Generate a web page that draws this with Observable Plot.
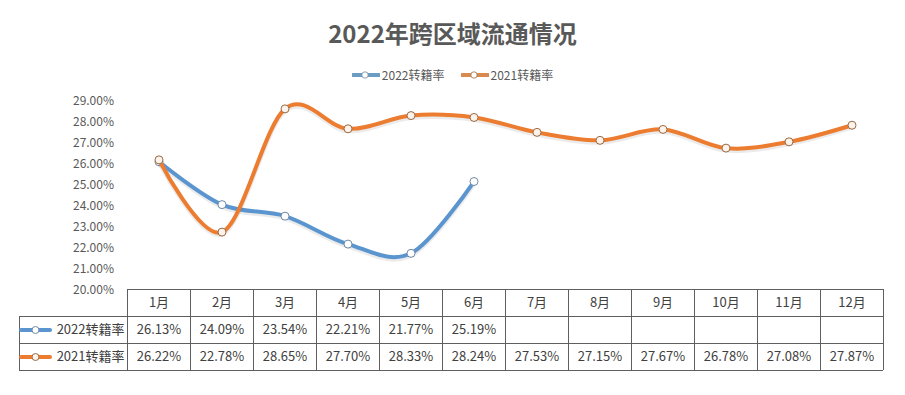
<!DOCTYPE html>
<html>
<head>
<meta charset="utf-8">
<script src="https://cdn.jsdelivr.net/npm/d3@7"></script>
<script src="https://cdn.jsdelivr.net/npm/@observablehq/plot@0.6"></script>
<style>
  html, body { margin: 0; padding: 0; background: #fff; }
  body { font-family: "Noto Sans CJK SC", "Noto Sans", sans-serif; }
  #wrap { position: relative; width: 905px; height: 395px; overflow: hidden; background: #fff; }
  #title { position: absolute; left: 0; top: 16px; width: 905px; text-align: center;
           font-size: 24px; line-height: 34px; font-weight: bold; color: #595959; }
  #legend { position: absolute; left: 0; top: 66px; width: 905px; display: flex; justify-content: center;
            gap: 16px; font-size: 12px; line-height: 18px; color: #595959; }
  #legend .item { display: flex; align-items: center; gap: 2px; }
  .chart { position: absolute; left: 0; }
</style>
</head>
<body>
<div id="wrap">
  <div id="title">2022年跨区域流通情况</div>
  <div id="legend"></div>
</div>
<script>
// ---- data ----
const months = ["1月","2月","3月","4月","5月","6月","7月","8月","9月","10月","11月","12月"];
const name2022 = "2022转籍率";
const name2021 = "2021转籍率";
const rate2022 = [26.13, 24.09, 23.54, 22.21, 21.77, 25.19];
const rate2021 = [26.22, 22.78, 28.65, 27.70, 28.33, 28.24, 27.53, 27.15, 27.67, 26.78, 27.08, 27.87];
const yTicks = [20, 21, 22, 23, 24, 25, 26, 27, 28, 29];

const fontFamily = '"Noto Sans CJK SC", "Noto Sans", sans-serif';
const series = [
  {name: name2022, values: rate2022, color: "#5B95CF", legendColor: "#6A9CC4", fill: "#ffffff", edge: "#6f8aa8"},
  {name: name2021, values: rate2021, color: "#EC7C30", legendColor: "#D98A4E", fill: "#fdf3ea", edge: "#9a6a44"}
];
const fmt = d => d.toFixed(2) + "%";
const wrap = document.getElementById("wrap");

// ---- legend (HTML) ----
const legend = document.getElementById("legend");
for (const s of series) {
  const item = document.createElement("div");
  item.className = "item";
  item.innerHTML = `<svg width="28" height="10"><line x1="1" x2="27" y1="5" y2="5" stroke="${s.legendColor}" stroke-width="4" stroke-linecap="round"/><circle cx="13" cy="5" r="3.2" fill="#fff" stroke="${s.edge}" stroke-width="0.8"/></svg><span>${s.name}</span>`;
  legend.appendChild(item);
}

const xDomain = [0.5, months.length + 0.5];
const common = {width: 905, marginLeft: 127, marginRight: 22};

// ---- main line chart ----
const marks = [
  Plot.axisY({ticks: yTicks, tickFormat: fmt, tickSize: 0, tickPadding: 13.5, label: null, fontSize: 12, fill: "#595959"})
];
for (const s of series) {
  const data = s.values.map((v, i) => ({m: i + 1, v}));
  marks.push(Plot.line(data, {x: "m", y: "v", stroke: "#000", strokeOpacity: 0.08, strokeWidth: 5, dy: 2, curve: "cardinal", tension: 0}));
  marks.push(Plot.line(data, {x: "m", y: "v", stroke: s.color, strokeWidth: 4, curve: "cardinal", tension: 0}));
  marks.push(Plot.dot(data, {x: "m", y: "v", r: 4, fill: s.fill, stroke: s.edge, strokeWidth: 1}));
}
const main = Plot.plot({
  ...common,
  height: 215, marginTop: 13, marginBottom: 13,
  style: {background: "transparent", overflow: "visible", fontFamily, fontSize: "12px", color: "#595959"},
  x: {domain: xDomain, axis: null},
  y: {domain: [yTicks[0], yTicks[yTicks.length - 1]]},
  marks
});
main.classList.add("chart");
main.style.top = "88px";
wrap.appendChild(main);

// ---- data table (Plot, same x scale) ----
const rowsCount = 3;
const bounds = d3.range(months.length + 1).map(i => i + 0.5);
const headerCells = months.map((m, i) => ({x: i + 1, r: 0.5, t: m}));
const valueCells = series.flatMap((s, k) => s.values.map((v, i) => ({x: i + 1, r: k + 1.5, t: fmt(v)})));
const labelRows = series.map((s, k) => ({r: k + 1.5, name: s.name, color: s.color, fill: s.fill, edge: s.edge}));
const lineColor = "#5f5f5f";

const table = Plot.plot({
  ...common,
  height: 83, marginTop: 0, marginBottom: 2,
  style: {background: "transparent", overflow: "visible", fontFamily, fontSize: "13px", color: "#404040"},
  x: {domain: xDomain, axis: null},
  y: {domain: [rowsCount, 0], axis: null},
  marks: [
    Plot.ruleX(bounds, {x: d => d, y1: 0, y2: rowsCount, stroke: lineColor}),
    Plot.ruleY(d3.range(rowsCount + 1), {y: d => d, x1: xDomain[0], x2: xDomain[1], stroke: lineColor}),
    // row-label column borders
    Plot.ruleY(d3.range(1, rowsCount + 1), {y: d => d, x1: xDomain[0], x2: xDomain[0], insetLeft: -108, stroke: lineColor}),
    Plot.ruleX([xDomain[0]], {x: d => d, y1: 1, y2: rowsCount, dx: -108, stroke: lineColor}),
    // row-label legend icons
    Plot.ruleY(labelRows, {y: "r", x1: xDomain[0], x2: xDomain[0], insetLeft: -106, insetRight: 77, stroke: "color", strokeWidth: 4, strokeLinecap: "round"}),
    Plot.dot(labelRows, {y: "r", x: xDomain[0], dx: -92, r: 3.5, fill: "fill", stroke: "edge", strokeWidth: 1}),
    Plot.text(labelRows, {y: "r", x: xDomain[0], dx: -3, text: "name", textAnchor: "end", fontSize: 13, fill: "#404040"}),
    // cells
    Plot.text(headerCells, {x: "x", y: "r", text: "t", fontSize: 13, fill: "#404040"}),
    Plot.text(valueCells, {x: "x", y: "r", text: "t", fontSize: 13, fill: "#404040"})
  ]
});
table.classList.add("chart");
table.style.top = "289px";
wrap.appendChild(table);
</script>
</body>
</html>
